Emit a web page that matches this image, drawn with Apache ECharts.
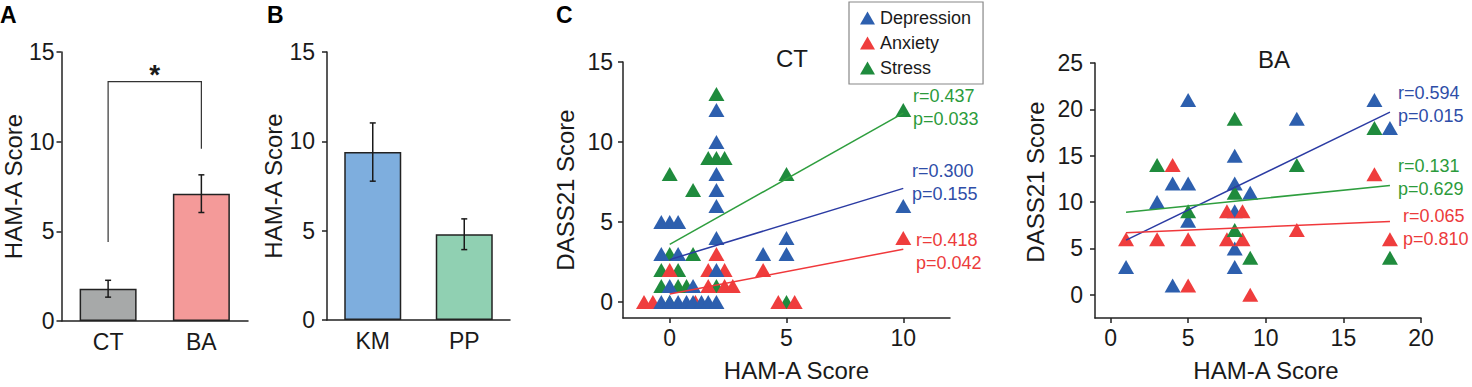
<!DOCTYPE html>
<html>
<head>
<meta charset="utf-8">
<title>HAM-A and DASS21 scores</title>
<script src="https://cdn.jsdelivr.net/npm/echarts@6/dist/echarts.min.js"></script>
<style>
  html, body { margin: 0; padding: 0; background: #fff; }
  #chart { width: 1472px; height: 387px; }
</style>
</head>
<body>
<div id="chart"></div>
<script>
// ---- panel A: HAM-A by group ----
const groupsA = ["CT", "BA"]
const meansA = [1.8, 7.1]
const semA = [0.47, 1.05]
// significance bracket: left leg bottom, bracket top, right leg bottom
const bracketA = [4.4, 13.35, 9.6]

// ---- panel B: HAM-A by subgroup ----
const groupsB = ["KM", "PP"]
const meansB = [9.4, 4.8]
const semB = [1.63, 0.86]

const barTicks = [0, 5, 10, 15]

// ---- panel C, CT group: [HAM-A, DASS21] (jittered positions as drawn) ----
const ctStress = [
  [2, 13], [2, 9], [1.65, 9], [2.35, 9], [0, 8], [5, 8], [1, 7], [10, 12],
  [0, 3], [1, 3], [-0.36, 2], [0.36, 2], [2, 1], [-0.36, 1], [0.36, 1], [0.72, 1],
  [0, 0], [5, 0],
]
const ctAnxiety = [
  [1.1, 0], [-1.1, 0], [-0.72, 0], [4.65, 0], [5.35, 0],
  [1.65, 1], [2.35, 1], [2.7, 1],
  [0, 2], [1.65, 2], [2.35, 2], [4, 2], [2, 3], [10, 4],
]
const ctDepression = [
  [2, 12], [2, 10], [2, 8], [2, 7], [2, 6], [10, 6],
  [0, 5], [-0.36, 5], [0.36, 5], [2, 4], [5, 4],
  [-0.36, 3], [0.36, 3], [4, 3], [5, 3], [2, 2], [0, 1], [1, 1],
  [-0.36, 0], [0, 0], [0.36, 0], [0.72, 0], [1, 0], [1.36, 0], [1.65, 0], [2, 0],
]
const ctFits = {
  Depression: [[0, 2.65], [10, 7.1]],
  Anxiety: [[0, 0.5], [10, 3.3]],
  Stress: [[0, 3.6], [10, 11.8]],
}
const ctStats = [
  { name: "Stress", r: "0.437", p: "0.033" },
  { name: "Depression", r: "0.300", p: "0.155" },
  { name: "Anxiety", r: "0.418", p: "0.042" },
]

// ---- panel C, BA group ----
const baDepression = [
  [1, 3], [3, 10], [4, 12], [4, 1], [5, 21], [5, 12], [5, 8], [8, 15], [8, 12],
  [8, 9], [8, 5], [8, 3], [9, 11], [12, 19], [17, 21], [18, 18],
]
const baAnxiety = [
  [1, 6], [3, 6], [4, 14], [5, 6], [5, 1], [7.5, 9], [8.5, 9], [7.5, 6], [8.5, 6],
  [9, 0], [12, 7], [17, 13], [18, 6],
]
const baStress = [
  [3, 14], [5, 9], [8, 19], [8, 11], [8, 7], [9, 4], [12, 14], [17, 18], [18, 4],
]
const baFits = {
  Depression: [[1, 5.9], [18, 19.7]],
  Anxiety: [[1, 6.7], [18, 7.9]],
  Stress: [[1, 8.9], [18, 11.8]],
}
const baStats = [
  { name: "Depression", r: "0.594", p: "0.015" },
  { name: "Stress", r: "0.131", p: "0.629" },
  { name: "Anxiety", r: "0.065", p: "0.810" },
]

const ctXTicks = [0, 5, 10]
const ctYTicks = [0, 5, 10, 15]
const baXTicks = [0, 5, 10, 15, 20]
const baYTicks = [0, 5, 10, 15, 20, 25]

const font = '"Liberation Sans", Arial, Helvetica, sans-serif'
const ink = "#1a1a1a"
const markColor = { Depression: "#2d5fae", Anxiety: "#ef3d3d", Stress: "#1f8b3d" }
const fitColor = { Depression: "#2b3ba3", Anxiety: "#f0383b", Stress: "#2e9e3e" }
const textColor = { Depression: "#2e4ea8", Anxiety: "#ec3b3b", Stress: "#2b9b3b" }

const lineStyle = { color: "#222", width: 1.5 }

function valueAxis(grid, min, max, ticks, name, nameGap, labelMargin, extra) {
  const ax = {
    type: "value",
    gridIndex: grid,
    min: min,
    max: max,
    splitLine: { show: false },
    axisLine: { show: true, onZero: false, lineStyle: lineStyle },
    axisTick: { show: true, length: 5, lineStyle: lineStyle, customValues: ticks },
    axisLabel: { color: ink, fontSize: 23, fontFamily: font, margin: labelMargin, customValues: ticks },
    name: name,
    nameLocation: "middle",
    nameGap: nameGap,
    nameTextStyle: { color: ink, fontSize: 24, fontFamily: font },
  }
  return Object.assign(ax, extra || {})
}

function categoryAxis(grid, cats) {
  return {
    type: "category",
    gridIndex: grid,
    data: cats,
    axisLine: { show: true, lineStyle: lineStyle },
    axisTick: { show: false },
    axisLabel: { color: ink, fontSize: 23, fontFamily: font, margin: 9 },
  }
}

function barSeries(idx, means, colors) {
  return {
    type: "bar",
    xAxisIndex: idx,
    yAxisIndex: idx,
    barWidth: 57,
    silent: true,
    data: means.map((v, i) => ({ value: v, itemStyle: { color: colors[i] } })),
    itemStyle: { borderColor: "#222", borderWidth: 1.5 },
  }
}

function errorBarSeries(idx, means, sems) {
  return {
    type: "custom",
    xAxisIndex: idx,
    yAxisIndex: idx,
    z: 5,
    silent: true,
    data: means.map((m, i) => [i, m - sems[i], m + sems[i]]),
    encode: { x: 0, y: [1, 2] },
    renderItem(params, api) {
      const lo = api.coord([api.value(0), api.value(1)])
      const hi = api.coord([api.value(0), api.value(2)])
      const cap = 3
      const st = { stroke: ink, lineWidth: 1.5 }
      return {
        type: "group",
        children: [
          { type: "line", shape: { x1: lo[0], y1: lo[1], x2: hi[0], y2: hi[1] }, style: st },
          { type: "line", shape: { x1: lo[0] - cap, y1: lo[1], x2: lo[0] + cap, y2: lo[1] }, style: st },
          { type: "line", shape: { x1: hi[0] - cap, y1: hi[1], x2: hi[0] + cap, y2: hi[1] }, style: st },
        ],
      }
    },
  }
}

function bracketSeries() {
  return {
    type: "custom",
    xAxisIndex: 0,
    yAxisIndex: 0,
    z: 5,
    silent: true,
    data: [[0, bracketA[0], bracketA[1], bracketA[2]]],
    encode: { x: 0, y: 1 },
    renderItem(params, api) {
      const p0 = api.coord([0, api.value(1)])
      const p1 = api.coord([0, api.value(2)])
      const p2 = api.coord([1, api.value(2)])
      const p3 = api.coord([1, api.value(3)])
      return {
        type: "group",
        children: [
          {
            type: "polyline",
            shape: { points: [p0, p1, p2, p3] },
            style: { stroke: "#333", lineWidth: 1.2, fill: null },
          },
          {
            type: "text",
            style: {
              text: "*",
              x: (p1[0] + p2[0]) / 2,
              y: p1[1] - 21,
              align: "center",
              verticalAlign: "top",
              font: "bold 28px " + font,
              fill: ink,
            },
          },
        ],
      }
    },
  }
}

function scatterSeries(name, data, idx) {
  return {
    type: "scatter",
    name: name,
    xAxisIndex: idx,
    yAxisIndex: idx,
    symbol: "triangle",
    symbolSize: [16, 14],
    silent: true,
    itemStyle: { color: markColor[name], opacity: 1 },
    data: data,
  }
}

function fitSeries(name, data, idx) {
  return {
    type: "line",
    name: name + " fit",
    xAxisIndex: idx,
    yAxisIndex: idx,
    z: 4,
    silent: true,
    showSymbol: false,
    symbol: "none",
    lineStyle: { color: fitColor[name], width: 1.5 },
    data: data,
  }
}

// stat labels: positions of each two-line block (layout only)
function statTexts(stats, spots) {
  const out = []
  stats.forEach((s, i) => {
    const c = textColor[s.name]
    const sp = spots[i]
    out.push({ type: "text", left: sp[0], top: sp[1], style: { text: "r=" + s.r, fill: c, font: "18px " + font } })
    out.push({ type: "text", left: sp[0], top: sp[1] + 23, style: { text: "p=" + s.p, fill: c, font: "18px " + font } })
  })
  return out
}

const chart = echarts.init(document.getElementById("chart"), null, { renderer: "svg" })

const option = {
  animation: false,
  backgroundColor: "#fff",
  textStyle: { fontFamily: font },
  grid: [
    { left: 60, top: 52, width: 188, height: 269 },
    { left: 327, top: 52, width: 183, height: 268 },
    { left: 623, top: 62, width: 327, height: 261 },
    { left: 1095, top: 63, width: 326, height: 260 },
  ],
  xAxis: [
    categoryAxis(0, groupsA),
    categoryAxis(1, groupsB),
    valueAxis(2, -2, 12, ctXTicks, "HAM-A Score", 40, 8, {
      nameTextStyle: { color: ink, fontSize: 24, fontFamily: font, padding: [0, 0, 0, 20] },
    }),
    valueAxis(3, -1, 20, baXTicks, "HAM-A Score", 40, 8, {
      nameTextStyle: { color: ink, fontSize: 24, fontFamily: font, padding: [0, 0, 0, 16] },
    }),
  ],
  yAxis: [
    valueAxis(0, 0, 15, barTicks, "HAM-A Score", 31, 7),
    valueAxis(1, 0, 15, barTicks, "HAM-A Score", 40, 12),
    valueAxis(2, -1, 15, ctYTicks, "DASS21 Score", 46, 10),
    valueAxis(3, -2.5, 25, baYTicks, "DASS21 Score", 48, 12, {
      nameTextStyle: { color: ink, fontSize: 24, fontFamily: font, padding: [0, 0, 0, 17] },
    }),
  ],
  legend: {
    left: 849,
    top: 2,
    orient: "vertical",
    selectedMode: false,
    data: ["Depression", "Anxiety", "Stress"],
    icon: "triangle",
    itemWidth: 15,
    itemHeight: 13,
    itemGap: 7,
    padding: [7, 12, 7, 11],
    borderColor: "#888",
    borderWidth: 1.2,
    textStyle: { color: ink, fontSize: 18, fontFamily: font },
  },
  graphic: [
    { type: "text", left: 0, top: 3, style: { text: "A", fill: "#000", font: "bold 23px " + font } },
    { type: "text", left: 267, top: 3, style: { text: "B", fill: "#000", font: "bold 23px " + font } },
    { type: "text", left: 556, top: 3, style: { text: "C", fill: "#000", font: "bold 23px " + font } },
    { type: "text", left: 776, top: 46, style: { text: "CT", fill: ink, font: "24px " + font } },
    { type: "text", left: 1258, top: 47, style: { text: "BA", fill: ink, font: "24px " + font } },
  ]
    .concat(statTexts(ctStats, [[913, 87], [912, 162], [916, 231]]))
    .concat(statTexts(baStats, [[1398, 84], [1398, 157], [1403, 207]])),
  series: [
    barSeries(0, meansA, ["#a7a9a9", "#f49a99"]),
    errorBarSeries(0, meansA, semA),
    bracketSeries(),
    barSeries(1, meansB, ["#7eaede", "#90d0b2"]),
    errorBarSeries(1, meansB, semB),

    scatterSeries("Depression", ctDepression, 2),
    scatterSeries("Anxiety", ctAnxiety, 2),
    scatterSeries("Stress", ctStress, 2),
    fitSeries("Stress", ctFits.Stress, 2),
    fitSeries("Depression", ctFits.Depression, 2),
    fitSeries("Anxiety", ctFits.Anxiety, 2),

    scatterSeries("Depression", baDepression, 3),
    scatterSeries("Anxiety", baAnxiety, 3),
    scatterSeries("Stress", baStress, 3),
    fitSeries("Depression", baFits.Depression, 3),
    fitSeries("Stress", baFits.Stress, 3),
    fitSeries("Anxiety", baFits.Anxiety, 3),
  ],
}

// draw stress below anxiety below depression in the CT panel
option.series[5].z = 3
option.series[6].z = 2.5
option.series[7].z = 2

chart.setOption(option)
</script>
</body>
</html>
